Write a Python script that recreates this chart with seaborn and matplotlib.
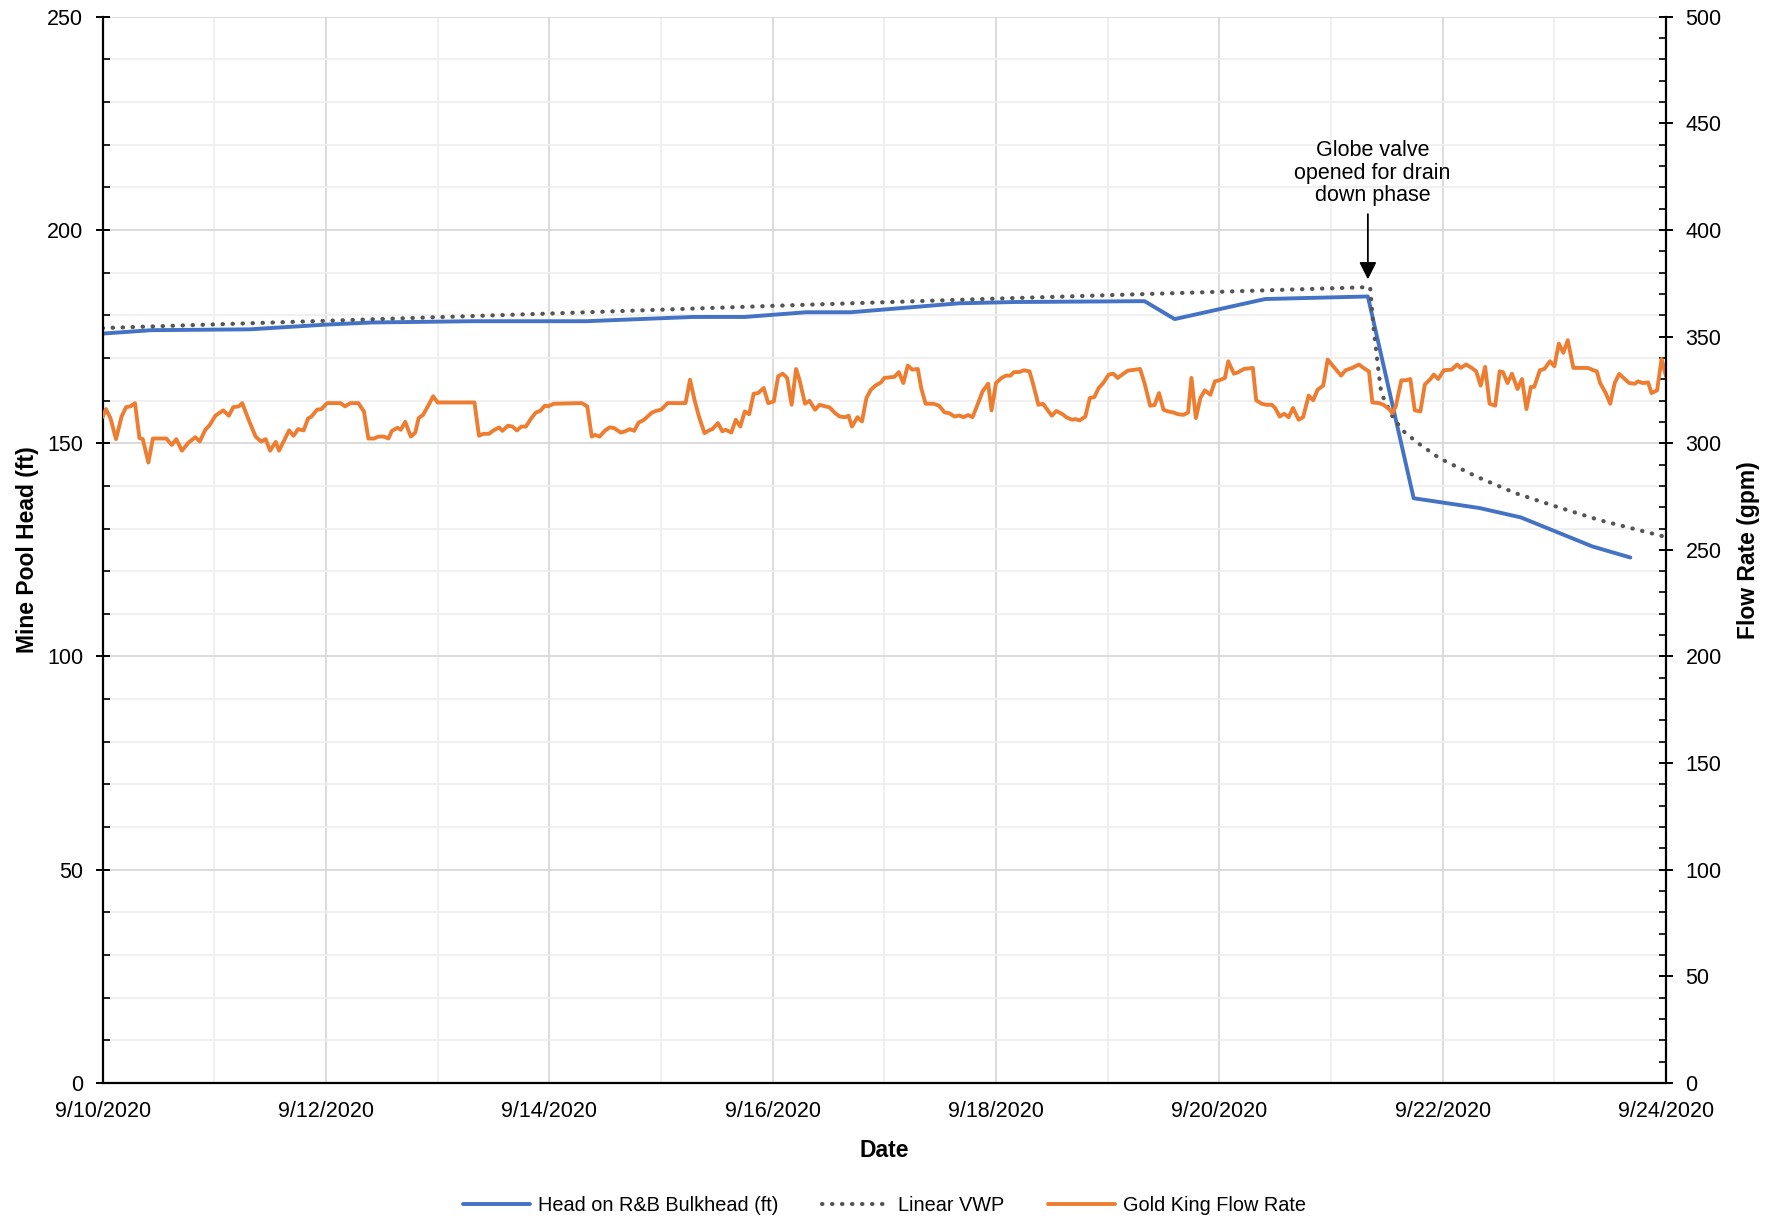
import matplotlib
matplotlib.use("Agg")
import matplotlib.pyplot as plt
import matplotlib.dates as mdates
from matplotlib import font_manager
from matplotlib.ticker import MultipleLocator, FuncFormatter
import seaborn as sns
import pandas as pd

start = pd.Timestamp("2020-09-10")

# Head on R&B Bulkhead (ft), days after 9/10/2020
head_days = [0.00, 0.44, 1.32, 2.00, 2.41, 3.32, 4.33, 5.29, 5.75, 6.30, 6.70,
             7.67, 8.17, 9.33, 9.60, 10.41, 11.33, 11.74, 12.33, 12.70, 13.34, 13.68]
head_ft = [175.7, 176.5, 176.7, 177.8, 178.3, 178.6, 178.6, 179.6, 179.6, 180.7, 180.7,
           182.8, 183.1, 183.3, 179.1, 183.8, 184.4, 137.1, 134.8, 132.6, 125.8, 123.2]

# Linear VWP (ft)
vwp_days = [0.00, 2.00, 4.00, 6.00, 8.00, 10.00, 11.35, 11.38, 11.42, 11.45, 11.55,
            11.64, 11.78, 11.97, 12.30, 12.65, 13.01, 13.40, 14.00]
vwp_ft = [177.0, 178.7, 180.4, 182.2, 183.9, 185.5, 186.6, 177.3, 168.0, 161.7, 156.3,
          153.0, 150.0, 146.5, 142.2, 138.3, 135.2, 132.0, 128.0]

# Gold King Flow Rate (gpm)
gk_days = [
    0.00, 0.03, 0.07, 0.12, 0.17, 0.21, 0.25, 0.29, 0.33, 0.36, 0.41, 0.45, 0.57, 0.62,
    0.66, 0.71, 0.77, 0.83, 0.87, 0.92, 0.96, 1.01, 1.08, 1.13, 1.17, 1.22, 1.25, 1.31,
    1.37, 1.42, 1.46, 1.50, 1.55, 1.58, 1.67, 1.71, 1.75, 1.80, 1.84, 1.87, 1.92, 1.96,
    2.01, 2.13, 2.17, 2.22, 2.29, 2.34, 2.38, 2.43, 2.47, 2.52, 2.56, 2.59, 2.64, 2.67,
    2.71, 2.76, 2.80, 2.83, 2.87, 2.92, 2.96, 3.00, 3.33, 3.37, 3.41, 3.46, 3.50, 3.55,
    3.58, 3.63, 3.67, 3.71, 3.75, 3.79, 3.84, 3.88, 3.92, 3.96, 3.99, 4.04, 4.29, 4.34,
    4.38, 4.41, 4.45, 4.50, 4.54, 4.58, 4.64, 4.68, 4.72, 4.76, 4.80, 4.84, 4.88, 4.92,
    4.96, 5.00, 5.06, 5.22, 5.26, 5.30, 5.34, 5.39, 5.43, 5.46, 5.51, 5.55, 5.58, 5.63,
    5.67, 5.71, 5.75, 5.79, 5.83, 5.87, 5.92, 5.96, 6.01, 6.05, 6.09, 6.13, 6.17, 6.21,
    6.24, 6.29, 6.33, 6.38, 6.42, 6.47, 6.51, 6.56, 6.60, 6.65, 6.68, 6.71, 6.76, 6.80,
    6.84, 6.88, 6.92, 6.97, 7.00, 7.09, 7.13, 7.17, 7.21, 7.25, 7.30, 7.33, 7.37, 7.44,
    7.49, 7.54, 7.58, 7.63, 7.67, 7.71, 7.75, 7.79, 7.84, 7.88, 7.93, 7.96, 8.00, 8.05,
    8.09, 8.13, 8.16, 8.21, 8.25, 8.30, 8.33, 8.38, 8.42, 8.46, 8.50, 8.54, 8.59, 8.63,
    8.68, 8.71, 8.75, 8.80, 8.84, 8.88, 8.92, 8.96, 9.01, 9.05, 9.09, 9.13, 9.18, 9.29,
    9.33, 9.38, 9.42, 9.46, 9.50, 9.54, 9.59, 9.63, 9.68, 9.72, 9.75, 9.79, 9.83, 9.87,
    9.92, 9.96, 10.00, 10.05, 10.08, 10.13, 10.17, 10.22, 10.30, 10.33, 10.38, 10.42,
    10.47, 10.50, 10.54, 10.58, 10.62, 10.66, 10.71, 10.75, 10.80, 10.84, 10.88, 10.93,
    10.97, 11.02, 11.09, 11.13, 11.19, 11.25, 11.29, 11.34, 11.37, 11.43, 11.47, 11.52,
    11.55, 11.58, 11.63, 11.67, 11.71, 11.75, 11.80, 11.84, 11.89, 11.92, 11.96, 12.01,
    12.08, 12.13, 12.16, 12.21, 12.26, 12.30, 12.34, 12.38, 12.42, 12.47, 12.51, 12.54,
    12.58, 12.62, 12.67, 12.71, 12.75, 12.79, 12.82, 12.87, 12.91, 12.96, 13.00, 13.04,
    13.08, 13.12, 13.17, 13.23, 13.30, 13.35, 13.38, 13.41, 13.46, 13.50, 13.54, 13.58,
    13.63, 13.67, 13.72, 13.75, 13.79, 13.84, 13.87, 13.92, 13.96, 14.00]
gk_gpm = [
    312.2, 316.0, 311.8, 301.9, 312.5, 316.9, 317.3, 318.8, 302.4, 301.9, 290.9, 302.2, 302.2, 299.2,
    301.9, 296.5, 300.3, 302.8, 300.8, 306.3, 308.6, 312.9, 315.4, 312.9, 316.9, 317.3, 318.8, 310.7,
    303.1, 300.8, 301.9, 296.5, 300.6, 296.5, 306.0, 303.5, 306.6, 306.0, 311.6, 312.5, 315.7, 316.0,
    318.8, 318.8, 317.3, 318.8, 318.8, 314.9, 302.2, 302.2, 303.1, 303.1, 302.2, 305.8, 307.2, 306.3,
    310.0, 303.1, 305.0, 311.8, 313.3, 318.0, 322.0, 319.1, 319.1, 303.5, 304.4, 304.4, 306.0, 307.4,
    305.8, 308.2, 307.8, 306.0, 307.8, 307.8, 311.8, 314.4, 315.2, 317.6, 317.3, 318.5, 318.8, 317.3,
    303.1, 303.9, 303.1, 306.0, 307.4, 307.1, 305.0, 305.6, 306.6, 305.8, 309.7, 310.7, 312.5, 314.4,
    315.2, 315.7, 318.8, 318.8, 329.8, 320.4, 312.5, 304.7, 306.0, 306.6, 309.4, 305.6, 306.3, 305.0,
    311.0, 307.8, 314.9, 313.6, 323.2, 323.5, 325.9, 318.8, 319.6, 331.4, 332.6, 330.6, 318.0, 334.8,
    329.8, 318.5, 319.9, 315.7, 318.0, 317.3, 316.8, 314.1, 312.5, 312.2, 312.9, 307.8, 312.2, 310.2,
    321.2, 325.1, 327.0, 328.5, 330.6, 331.1, 333.3, 328.2, 336.4, 334.5, 334.8, 325.9, 318.5, 318.5,
    317.6, 314.4, 314.1, 312.5, 313.0, 312.2, 313.2, 312.2, 318.8, 324.3, 327.9, 315.4, 328.2, 330.6,
    331.7, 331.7, 333.3, 333.4, 334.2, 333.7, 328.2, 318.0, 318.5, 315.7, 312.9, 315.1, 313.8, 312.2,
    311.0, 311.3, 310.7, 312.5, 321.2, 321.6, 325.9, 328.2, 332.2, 332.6, 330.6, 332.2, 334.0, 334.8,
    328.2, 317.6, 317.9, 323.5, 315.7, 314.9, 314.4, 313.6, 313.3, 314.4, 330.6, 311.8, 321.2, 324.8,
    322.7, 329.0, 329.5, 330.6, 338.4, 332.6, 333.3, 334.8, 335.3, 320.1, 318.5, 318.0,
    318.0, 316.5, 312.5, 313.8, 312.2, 316.5, 311.0, 312.2, 322.3, 320.1, 325.1, 327.0,
    339.2, 336.1, 331.7, 334.2, 335.3, 336.9, 335.3, 333.7, 319.1, 318.8, 318.0, 316.0,
    314.1, 317.3, 329.5, 329.5, 330.1, 315.4, 314.9, 327.5, 330.1, 332.2, 330.1, 334.2,
    334.5, 336.9, 335.3, 336.9, 335.3, 333.7, 327.0, 335.8, 318.5, 317.6, 333.7, 333.3,
    328.2, 332.6, 325.4, 330.1, 316.0, 326.4, 326.4, 334.2, 334.8, 338.4, 336.1, 346.7,
    342.4, 348.3, 335.3, 335.3, 335.3, 334.2, 333.7, 328.2, 323.5, 318.5, 328.2, 332.5,
    330.1, 328.2, 327.9, 329.0, 328.2, 328.5, 323.5, 324.8, 339.5, 331.4]

note_text = "Globe valve\nopened for drain\ndown phase"
note_day, note_tip, note_base, note_text_y = 11.33, 188.4, 203.7, 205.5

BLUE, ORANGE, GREY = "#4472C4", "#ED7D31", "#555555"

sns.set_style("white")
names = {f.name for f in font_manager.fontManager.ttflist}
narrow = "Liberation Sans Narrow" if "Liberation Sans Narrow" in names else "Liberation Sans"
plt.rcParams["font.family"] = [narrow, "DejaVu Sans"]
plt.rcParams.update({"text.color": "black", "axes.labelcolor": "black",
                     "xtick.color": "black", "ytick.color": "black"})

def to_dates(days):
    return start + pd.to_timedelta(days, unit="D")

head = pd.DataFrame({"Date": to_dates(head_days), "Head": head_ft})
vwp = pd.DataFrame({"Date": to_dates(vwp_days), "VWP": vwp_ft})
gk = pd.DataFrame({"Date": to_dates(gk_days), "Flow": gk_gpm})

fig, ax = plt.subplots(figsize=(17.69, 12.25), dpi=100)
fig.subplots_adjust(left=0.058, right=0.9418, top=0.9864, bottom=0.1159)
ax2 = ax.twinx()

sns.lineplot(data=head, x="Date", y="Head", ax=ax, color=BLUE, lw=2.8,
             estimator=None, legend=False, label="Head on R&B Bulkhead (ft)")
sns.lineplot(data=vwp, x="Date", y="VWP", ax=ax, color=GREY, lw=3.0,
             linestyle=(0, (0.1, 2.3)), dash_capstyle="round",
             estimator=None, legend=False, label="Linear VWP")
sns.lineplot(data=gk, x="Date", y="Flow", ax=ax2, color=ORANGE, lw=2.8,
             estimator=None, legend=False, label="Gold King Flow Rate")

# axes ranges and ticks
ax.set_xlim(start, start + pd.Timedelta(days=14))
ax.set_ylim(0, 250)
ax2.set_ylim(0, 500)
ax.xaxis.set_major_locator(mdates.DayLocator(bymonthday=range(10, 25, 2)))
ax.xaxis.set_minor_locator(mdates.DayLocator())
ax.xaxis.set_major_formatter(FuncFormatter(
    lambda v, p: "{d.month}/{d.day}/{d.year}".format(d=mdates.num2date(v))))
ax.yaxis.set_major_locator(MultipleLocator(50))
ax.yaxis.set_minor_locator(MultipleLocator(10))
ax2.yaxis.set_major_locator(MultipleLocator(50))
ax2.yaxis.set_minor_locator(MultipleLocator(10))

for a in (ax, ax2):
    a.tick_params(which="major", direction="inout", length=10, width=1.4, labelsize=15.5)
    a.tick_params(which="minor", direction="in", length=5, width=1.2)
    a.set_xlabel("")
    a.set_ylabel("")
    a.spines["top"].set_visible(False)
ax.tick_params(axis="y", which="major", pad=9)
ax.tick_params(axis="x", which="major", pad=8)
ax2.tick_params(axis="y", which="major", pad=9)
ax2.tick_params(axis="y", which="both", left=False, right=True)
ax.tick_params(axis="y", which="both", right=False)
ax.spines["right"].set_visible(False)
for s in ("left", "bottom"):
    ax.spines[s].set_color("black")
    ax.spines[s].set_linewidth(1.6)
ax2.spines["right"].set_color("black")
ax2.spines["right"].set_linewidth(1.6)
ax2.spines["left"].set_visible(False)
ax2.spines["bottom"].set_visible(False)

# gridlines
ax.set_axisbelow(True)
ax.grid(which="major", color="#d9d9d9", lw=1.3)
ax.grid(which="minor", color="#efefef", lw=1.3)
ax2.grid(False)

# axis titles
ax.set_ylabel("Mine Pool Head (ft)", fontsize=16.5, fontweight="bold")
ax.yaxis.set_label_coords(-0.041, 0.5)
ax2.set_ylabel("Flow Rate (gpm)", fontsize=16.5, fontweight="bold")
ax2.yaxis.set_label_coords(1.0455, 0.5)
ax.set_xlabel("Date", fontsize=16.5, fontweight="bold")
ax.xaxis.set_label_coords(0.5, -0.0525)

# annotation
tip = start + pd.Timedelta(days=note_day)
ax.annotate("", xy=(tip, note_tip), xytext=(tip, note_base),
            arrowprops=dict(arrowstyle="-|>", color="black", lw=1.3,
                            mutation_scale=26, shrinkA=0, shrinkB=0))
ax.text(start + pd.Timedelta(days=note_day + 0.04), note_text_y, note_text,
        ha="center", va="bottom", fontsize=15.5, linespacing=1.12,
        family=["Liberation Sans", "DejaVu Sans"])

# legend
h1, l1 = ax.get_legend_handles_labels()
h2, l2 = ax2.get_legend_handles_labels()
fig.legend(h1 + h2, l1 + l2, loc="center", bbox_to_anchor=(0.5, 0.0163), ncol=3,
           frameon=False, fontsize=14.3, handlelength=3.4, handletextpad=0.4,
           columnspacing=2.2)

fig.savefig("out.png", dpi=100, facecolor="white")
